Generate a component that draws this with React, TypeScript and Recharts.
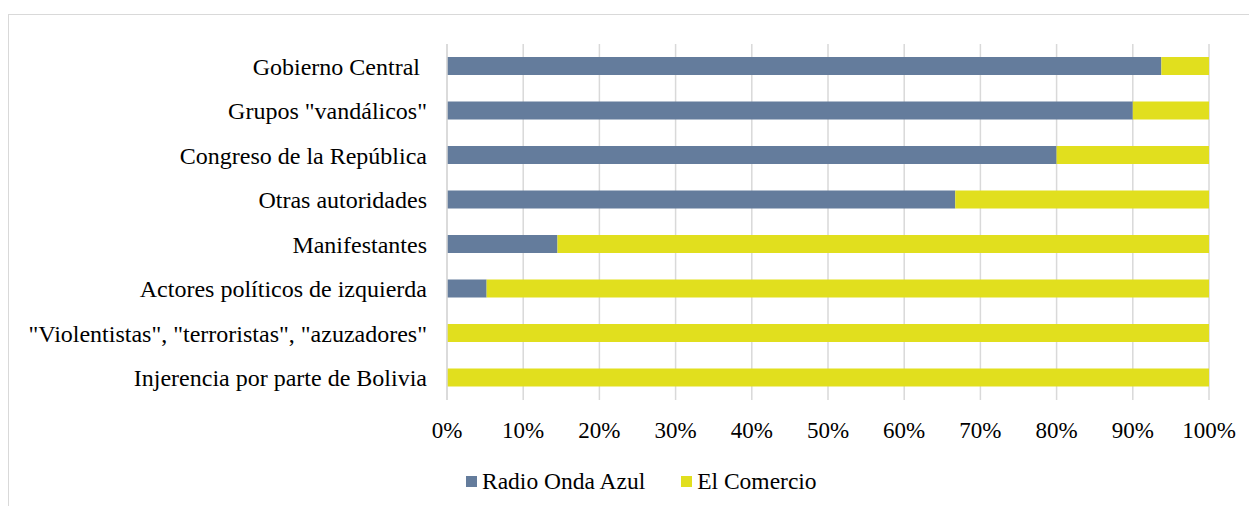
import React from "react";
import { BarChart, Bar, XAxis, YAxis, CartesianGrid, Legend } from "recharts";

const categories = [
  "Gobierno Central ",
  'Grupos "vandálicos"',
  "Congreso de la República",
  "Otras autoridades",
  "Manifestantes",
  "Actores políticos de izquierda",
  '"Violentistas", "terroristas", "azuzadores"',
  "Injerencia por parte de Bolivia",
];
const radioOndaAzul = [93.75, 90, 80, 66.7, 14.5, 5.2, 0, 0];
const elComercio = [6.25, 10, 20, 33.3, 85.5, 94.8, 100, 100];
const xTicks = [0, 10, 20, 30, 40, 50, 60, 70, 80, 90, 100];

const series = [
  { key: "radio", name: "Radio Onda Azul", color: "#647c9c" },
  { key: "comercio", name: "El Comercio", color: "#e1df1e" },
];

const FONT = "Liberation Serif";
const GRID = "#d9d9d9";

const data = categories.map((c, i) => ({
  cat: c,
  radio: radioOndaAzul[i],
  comercio: elComercio[i],
}));

// trailing space in the first label pushes it left a bit, like the original
const CatTick = ({ x, y, payload }: any) => {
  const label: string = payload.value;
  const trail = label.length - label.trimEnd().length;
  return (
    <text x={x - trail * 7} y={y} dy="0.355em" textAnchor="end" fontSize={24} fill="#000" fontFamily={FONT}>
      {label.trimEnd()}
    </text>
  );
};

const LegendBox = () => (
  <div style={{ display: "flex", alignItems: "center", height: 50, paddingLeft: 458, fontSize: 23.5, color: "#000" }}>
    {series.map((s) => (
      <div key={s.key} style={{ display: "flex", alignItems: "center", marginRight: 36 }}>
        <span style={{ width: 11, height: 11, background: s.color, marginRight: 5 }} />
        <span>{s.name}</span>
      </div>
    ))}
  </div>
);

export default function App() {
  return (
    <div style={{ position: "relative", width: 1249, height: 498, overflow: "hidden", fontFamily: FONT }}>
      <div
        style={{
          position: "absolute",
          left: 0,
          top: 6,
          width: 1260,
          height: 500,
          borderTop: `1px solid ${GRID}`,
          borderLeft: `1px solid ${GRID}`,
        }}
      />
      <div style={{ position: "absolute", left: 0, top: 0 }}>
        <BarChart
          width={1249}
          height={498}
          layout="vertical"
          data={data}
          margin={{ top: 36, right: 48, left: 0, bottom: 0 }}
          barSize={18}
        >
          <CartesianGrid horizontal={false} stroke={GRID} strokeWidth={1.5} />
          <XAxis
            type="number"
            domain={[0, 100]}
            ticks={xTicks}
            tickFormatter={(v) => `${v}%`}
            axisLine={false}
            tickLine={false}
            tickSize={6}
            tickMargin={16}
            height={56}
            interval={0}
            tick={{ fontSize: 23, fill: "#000", fontFamily: FONT }}
          />
          <YAxis
            type="category"
            dataKey="cat"
            width={439}
            axisLine={{ stroke: GRID, strokeWidth: 1.5 }}
            tickLine={false}
            tickSize={6}
            tickMargin={14}
            interval={0}
            tick={<CatTick />}
          />
          <Legend verticalAlign="bottom" content={<LegendBox />} wrapperStyle={{ left: 0, width: 1249 }} />
          {series.map((s) => (
            <Bar key={s.key} dataKey={s.key} name={s.name} stackId="a" fill={s.color} isAnimationActive={false} />
          ))}
        </BarChart>
      </div>
    </div>
  );
}
